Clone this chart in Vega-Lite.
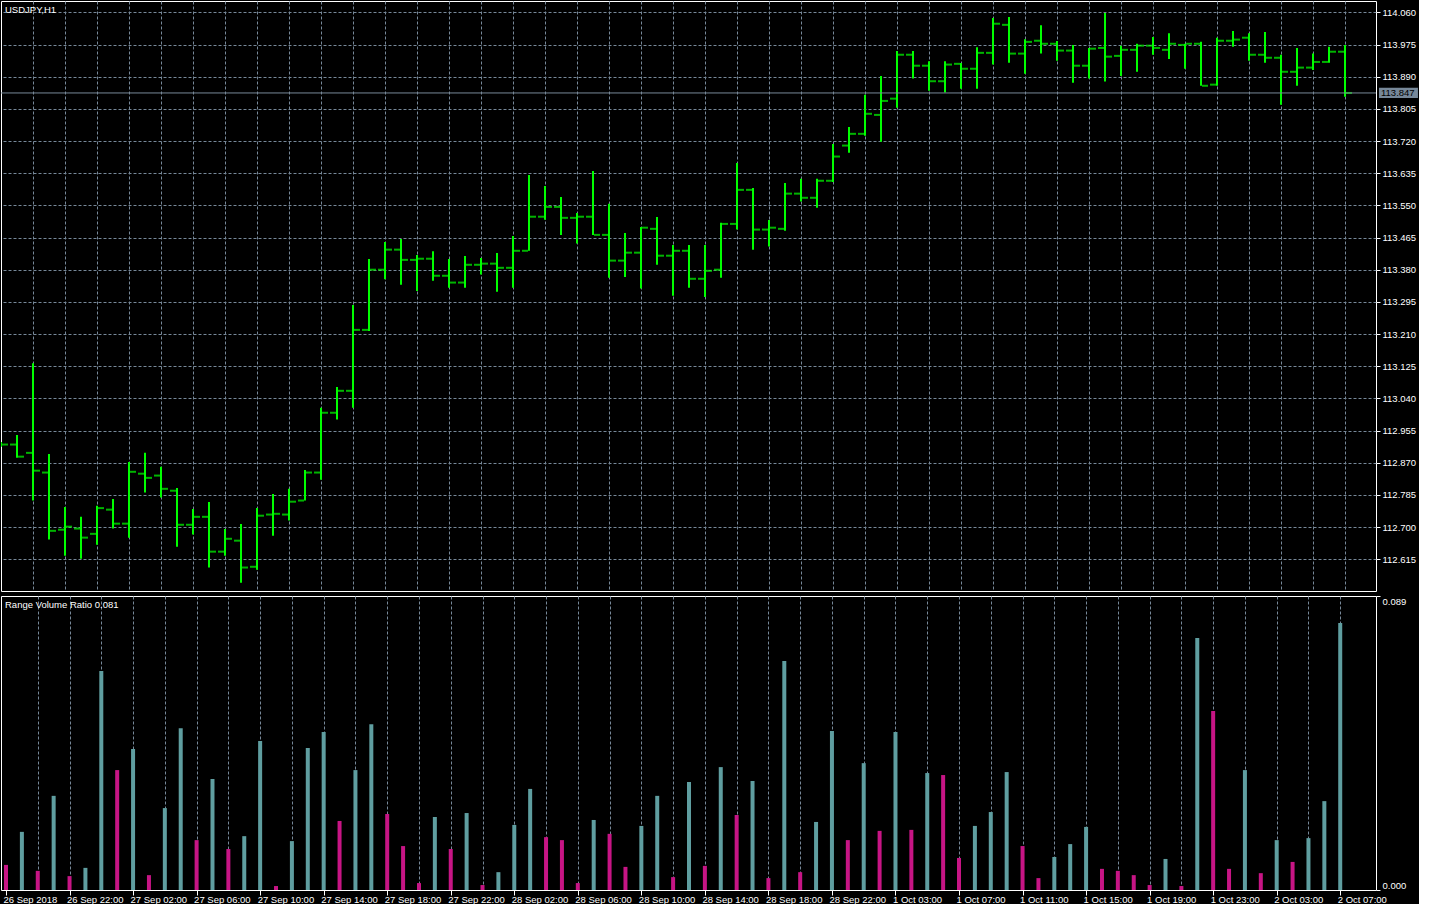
{
  "$schema": "https://vega.github.io/schema/vega-lite/v6.json",
  "background": "#000000",
  "padding": {"left": 0, "top": 0, "right": 0, "bottom": 0},
  "spacing": 3,
  "config": {
    "view": {"stroke": "#ffffff", "strokeWidth": 1},
    "font": "Liberation Sans",
    "axis": {"labelFont": "Liberation Sans", "labelFontSize": 9.5, "labelColor": "#ffffff", "title": null},
    "title": {"font": "Liberation Sans", "fontSize": 9.5, "fontWeight": "normal", "color": "#ffffff", "anchor": "start", "frame": "group"}
  },
  "data": {"values": [
    {"i":0,"o":112.918,"h":112.925,"l":112.912,"c":112.918,"v":0.0076,"col":"dn"},
    {"i":1,"o":112.918,"h":112.943,"l":112.883,"c":112.886,"v":0.0176,"col":"up"},
    {"i":2,"o":112.896,"h":113.133,"l":112.770,"c":112.849,"v":0.0058,"col":"dn"},
    {"i":3,"o":112.844,"h":112.893,"l":112.667,"c":112.690,"v":0.0285,"col":"up"},
    {"i":4,"o":112.693,"h":112.753,"l":112.624,"c":112.701,"v":0.0042,"col":"dn"},
    {"i":5,"o":112.696,"h":112.727,"l":112.616,"c":112.672,"v":0.0067,"col":"up"},
    {"i":6,"o":112.682,"h":112.756,"l":112.653,"c":112.750,"v":0.0663,"col":"up"},
    {"i":7,"o":112.746,"h":112.774,"l":112.696,"c":112.709,"v":0.0363,"col":"dn"},
    {"i":8,"o":112.709,"h":112.872,"l":112.672,"c":112.846,"v":0.0427,"col":"up"},
    {"i":9,"o":112.841,"h":112.896,"l":112.791,"c":112.830,"v":0.0045,"col":"dn"},
    {"i":10,"o":112.836,"h":112.859,"l":112.778,"c":112.801,"v":0.0248,"col":"up"},
    {"i":11,"o":112.796,"h":112.803,"l":112.648,"c":112.706,"v":0.0490,"col":"up"},
    {"i":12,"o":112.706,"h":112.748,"l":112.680,"c":112.727,"v":0.0151,"col":"dn"},
    {"i":13,"o":112.727,"h":112.766,"l":112.593,"c":112.635,"v":0.0336,"col":"up"},
    {"i":14,"o":112.635,"h":112.695,"l":112.624,"c":112.669,"v":0.0124,"col":"dn"},
    {"i":15,"o":112.664,"h":112.708,"l":112.553,"c":112.593,"v":0.0163,"col":"up"},
    {"i":16,"o":112.595,"h":112.750,"l":112.587,"c":112.730,"v":0.0451,"col":"up"},
    {"i":17,"o":112.733,"h":112.787,"l":112.677,"c":112.735,"v":0.0012,"col":"dn"},
    {"i":18,"o":112.733,"h":112.801,"l":112.717,"c":112.767,"v":0.0148,"col":"up"},
    {"i":19,"o":112.770,"h":112.851,"l":112.770,"c":112.844,"v":0.0430,"col":"up"},
    {"i":20,"o":112.844,"h":113.015,"l":112.825,"c":113.002,"v":0.0478,"col":"up"},
    {"i":21,"o":113.002,"h":113.070,"l":112.984,"c":113.060,"v":0.0209,"col":"dn"},
    {"i":22,"o":113.060,"h":113.287,"l":113.015,"c":113.221,"v":0.0363,"col":"up"},
    {"i":23,"o":113.221,"h":113.408,"l":113.218,"c":113.380,"v":0.0502,"col":"up"},
    {"i":24,"o":113.380,"h":113.453,"l":113.355,"c":113.433,"v":0.0230,"col":"dn"},
    {"i":25,"o":113.433,"h":113.461,"l":113.340,"c":113.406,"v":0.0133,"col":"dn"},
    {"i":26,"o":113.406,"h":113.419,"l":113.324,"c":113.409,"v":0.0021,"col":"dn"},
    {"i":27,"o":113.409,"h":113.429,"l":113.351,"c":113.364,"v":0.0221,"col":"up"},
    {"i":28,"o":113.364,"h":113.408,"l":113.332,"c":113.346,"v":0.0124,"col":"dn"},
    {"i":29,"o":113.346,"h":113.416,"l":113.332,"c":113.393,"v":0.0233,"col":"up"},
    {"i":30,"o":113.393,"h":113.411,"l":113.367,"c":113.396,"v":0.0015,"col":"dn"},
    {"i":31,"o":113.396,"h":113.424,"l":113.322,"c":113.385,"v":0.0054,"col":"up"},
    {"i":32,"o":113.385,"h":113.469,"l":113.332,"c":113.430,"v":0.0197,"col":"up"},
    {"i":33,"o":113.430,"h":113.630,"l":113.430,"c":113.520,"v":0.0306,"col":"up"},
    {"i":34,"o":113.520,"h":113.601,"l":113.512,"c":113.546,"v":0.0160,"col":"dn"},
    {"i":35,"o":113.546,"h":113.572,"l":113.472,"c":113.517,"v":0.0151,"col":"dn"},
    {"i":36,"o":113.517,"h":113.530,"l":113.449,"c":113.520,"v":0.0021,"col":"dn"},
    {"i":37,"o":113.520,"h":113.641,"l":113.472,"c":113.472,"v":0.0212,"col":"up"},
    {"i":38,"o":113.472,"h":113.554,"l":113.359,"c":113.404,"v":0.0170,"col":"dn"},
    {"i":39,"o":113.404,"h":113.477,"l":113.361,"c":113.425,"v":0.0070,"col":"dn"},
    {"i":40,"o":113.425,"h":113.493,"l":113.330,"c":113.491,"v":0.0194,"col":"up"},
    {"i":41,"o":113.488,"h":113.519,"l":113.393,"c":113.417,"v":0.0285,"col":"up"},
    {"i":42,"o":113.417,"h":113.445,"l":113.311,"c":113.430,"v":0.0039,"col":"dn"},
    {"i":43,"o":113.430,"h":113.445,"l":113.332,"c":113.356,"v":0.0327,"col":"up"},
    {"i":44,"o":113.356,"h":113.445,"l":113.308,"c":113.377,"v":0.0073,"col":"dn"},
    {"i":45,"o":113.380,"h":113.504,"l":113.359,"c":113.501,"v":0.0372,"col":"up"},
    {"i":46,"o":113.501,"h":113.662,"l":113.486,"c":113.591,"v":0.0227,"col":"dn"},
    {"i":47,"o":113.591,"h":113.596,"l":113.433,"c":113.486,"v":0.0330,"col":"up"},
    {"i":48,"o":113.486,"h":113.511,"l":113.441,"c":113.491,"v":0.0036,"col":"dn"},
    {"i":49,"o":113.488,"h":113.609,"l":113.483,"c":113.581,"v":0.0693,"col":"up"},
    {"i":50,"o":113.581,"h":113.620,"l":113.560,"c":113.570,"v":0.0054,"col":"dn"},
    {"i":51,"o":113.570,"h":113.620,"l":113.544,"c":113.615,"v":0.0206,"col":"up"},
    {"i":52,"o":113.615,"h":113.712,"l":113.612,"c":113.679,"v":0.0481,"col":"up"},
    {"i":53,"o":113.708,"h":113.757,"l":113.689,"c":113.739,"v":0.0151,"col":"dn"},
    {"i":54,"o":113.739,"h":113.842,"l":113.734,"c":113.792,"v":0.0384,"col":"up"},
    {"i":55,"o":113.789,"h":113.892,"l":113.718,"c":113.826,"v":0.0179,"col":"dn"},
    {"i":56,"o":113.832,"h":113.958,"l":113.808,"c":113.948,"v":0.0478,"col":"up"},
    {"i":57,"o":113.948,"h":113.958,"l":113.885,"c":113.919,"v":0.0182,"col":"dn"},
    {"i":58,"o":113.919,"h":113.931,"l":113.853,"c":113.878,"v":0.0354,"col":"up"},
    {"i":59,"o":113.878,"h":113.931,"l":113.848,"c":113.922,"v":0.0348,"col":"dn"},
    {"i":60,"o":113.924,"h":113.926,"l":113.858,"c":113.911,"v":0.0097,"col":"dn"},
    {"i":61,"o":113.911,"h":113.968,"l":113.858,"c":113.953,"v":0.0194,"col":"up"},
    {"i":62,"o":113.953,"h":114.045,"l":113.922,"c":114.030,"v":0.0236,"col":"up"},
    {"i":63,"o":114.027,"h":114.048,"l":113.927,"c":113.951,"v":0.0357,"col":"up"},
    {"i":64,"o":113.951,"h":113.989,"l":113.898,"c":113.982,"v":0.0133,"col":"dn"},
    {"i":65,"o":113.985,"h":114.026,"l":113.951,"c":113.977,"v":0.0036,"col":"dn"},
    {"i":66,"o":113.977,"h":113.984,"l":113.932,"c":113.959,"v":0.0100,"col":"up"},
    {"i":67,"o":113.959,"h":113.974,"l":113.874,"c":113.919,"v":0.0139,"col":"up"},
    {"i":68,"o":113.919,"h":113.966,"l":113.885,"c":113.964,"v":0.0191,"col":"up"},
    {"i":69,"o":113.966,"h":114.058,"l":113.877,"c":113.943,"v":0.0064,"col":"dn"},
    {"i":70,"o":113.945,"h":113.972,"l":113.892,"c":113.961,"v":0.0058,"col":"dn"},
    {"i":71,"o":113.961,"h":113.977,"l":113.903,"c":113.972,"v":0.0045,"col":"dn"},
    {"i":72,"o":113.972,"h":113.995,"l":113.948,"c":113.966,"v":0.0015,"col":"dn"},
    {"i":73,"o":113.961,"h":114.005,"l":113.937,"c":113.977,"v":0.0094,"col":"up"},
    {"i":74,"o":113.974,"h":113.977,"l":113.911,"c":113.977,"v":0.0012,"col":"dn"},
    {"i":75,"o":113.977,"h":113.982,"l":113.866,"c":113.866,"v":0.0763,"col":"up"},
    {"i":76,"o":113.869,"h":113.993,"l":113.866,"c":113.985,"v":0.0542,"col":"dn"},
    {"i":77,"o":113.985,"h":114.011,"l":113.969,"c":113.988,"v":0.0064,"col":"dn"},
    {"i":78,"o":113.993,"h":114.005,"l":113.932,"c":113.948,"v":0.0363,"col":"up"},
    {"i":79,"o":113.948,"h":114.008,"l":113.927,"c":113.940,"v":0.0051,"col":"dn"},
    {"i":80,"o":113.940,"h":113.948,"l":113.816,"c":113.903,"v":0.0151,"col":"up"},
    {"i":81,"o":113.903,"h":113.966,"l":113.866,"c":113.914,"v":0.0085,"col":"dn"},
    {"i":82,"o":113.914,"h":113.951,"l":113.908,"c":113.929,"v":0.0157,"col":"up"},
    {"i":83,"o":113.929,"h":113.969,"l":113.927,"c":113.956,"v":0.0269,"col":"up"},
    {"i":84,"o":113.956,"h":113.974,"l":113.837,"c":113.847,"v":0.0808,"col":"up"}
  ]},
  "vconcat": [
    {
      "width": 1375,
      "height": 590,
      "title": {"text": "USDJPY,H1", "offset": -13, "dx": 4},
      "layer": [
        {
          "mark": {"type": "rule", "color": "#00ff00", "strokeWidth": 2, "clip": true},
          "encoding": {
            "x": {"field": "i", "type": "quantitative",
                  "scale": {"domain": [0, 85.9375], "nice": false, "zero": false},
                  "axis": {"values": [2,4,6,8,10,12,14,16,18,20,22,24,26,28,30,32,34,36,38,40,42,44,46,48,50,52,54,56,58,60,62,64,66,68,70,72,74,76,78,80,82,84],
                           "tickCount": 200,
                           "grid": true, "gridColor": "#778899", "gridDash": [3, 2], "gridWidth": 1,
                           "labels": false, "ticks": false, "domain": false}},
            "y": {"field": "l", "type": "quantitative",
                  "scale": {"domain": [112.531, 114.090], "nice": false, "zero": false},
                  "axis": {"orient": "right", "format": ".3f",
                           "values": [112.615,112.7,112.785,112.87,112.955,113.04,113.125,113.21,113.295,113.38,113.465,113.55,113.635,113.72,113.805,113.89,113.975,114.06],
                           "tickCount": 200,
                           "grid": true, "gridColor": "#778899", "gridDash": [3, 2], "gridWidth": 1,
                           "labelOverlap": false, "labelBound": false,
                           "domain": false, "tickColor": "#ffffff", "tickSize": 4, "labelPadding": 2, "labelBaseline": "middle"}},
            "y2": {"field": "h"}
          }
        },
        {
          "mark": {"type": "tick", "orient": "horizontal", "color": "#00ff00", "size": 6, "thickness": 2, "xOffset": -4, "clip": true},
          "encoding": {
            "x": {"field": "i", "type": "quantitative"},
            "y": {"field": "o", "type": "quantitative"}
          }
        },
        {
          "mark": {"type": "tick", "orient": "horizontal", "color": "#00ff00", "size": 6, "thickness": 2, "xOffset": 4, "clip": true},
          "encoding": {
            "x": {"field": "i", "type": "quantitative"},
            "y": {"field": "c", "type": "quantitative"}
          }
        },
        {
          "data": {"values": [{"p": 113.847}]},
          "mark": {"type": "rule", "color": "#778899", "strokeWidth": 1},
          "encoding": {"y": {"field": "p", "type": "quantitative"}}
        },
        {
          "data": {"values": [{"p": 113.847}]},
          "mark": {"type": "rect", "color": "#778899"},
          "encoding": {
            "x": {"datum": 86.125, "type": "quantitative"},
            "x2": {"datum": 88.56},
            "y": {"datum": 113.8605, "type": "quantitative"},
            "y2": {"datum": 113.8335}
          }
        },
        {
          "data": {"values": [{"p": 113.847}]},
          "mark": {"type": "text", "align": "left", "baseline": "middle", "color": "#000000", "font": "Liberation Sans", "fontSize": 9.5},
          "encoding": {
            "x": {"datum": 86.25, "type": "quantitative"},
            "y": {"field": "p", "type": "quantitative"},
            "text": {"field": "p", "type": "quantitative", "format": ".3f"}
          }
        }
      ]
    },
    {
      "width": 1375,
      "height": 294,
      "title": {"text": "Range Volume Ratio 0.081", "offset": -14, "dx": 4},
      "mark": {"type": "bar", "width": 4, "clip": true},
      "encoding": {
        "x": {"field": "i", "type": "quantitative",
              "scale": {"domain": [0, 85.9375], "nice": false, "zero": false},
              "axis": {"values": [0,2,4,6,8,10,12,14,16,18,20,22,24,26,28,30,32,34,36,38,40,42,44,46,48,50,52,54,56,58,60,62,64,66,68,70,72,74,76,78,80,82,84],
                       "tickCount": 200,
                       "grid": true, "gridColor": "#778899", "gridDash": [3, 2], "gridWidth": 1,
                       "gridOpacity": {"condition": {"test": "datum.value == 0", "value": 0}, "value": 1},
                       "domain": false,
                       "tickColor": "#ffffff", "tickSize": 5,
                       "tickOpacity": {"condition": {"test": "datum.value % 4 == 0", "value": 1}, "value": 0},
                       "labelAlign": "left", "labelBaseline": "top", "labelPadding": -1, "labelOffset": -3,
                       "labelFlush": false, "labelOverlap": false, "labelBound": false,
                       "labelExpr": "datum.value % 4 == 0 ? ['26 Sep 2018','26 Sep 22:00','27 Sep 02:00','27 Sep 06:00','27 Sep 10:00','27 Sep 14:00','27 Sep 18:00','27 Sep 22:00','28 Sep 02:00','28 Sep 06:00','28 Sep 10:00','28 Sep 14:00','28 Sep 18:00','28 Sep 22:00','1 Oct 03:00','1 Oct 07:00','1 Oct 11:00','1 Oct 15:00','1 Oct 19:00','1 Oct 23:00','2 Oct 03:00','2 Oct 07:00'][datum.value / 4] : ''"}},
        "y": {"field": "v", "type": "quantitative",
              "scale": {"domain": [0, 0.089], "nice": false, "zero": true},
              "axis": {"orient": "right", "values": [0, 0.089], "format": ".3f", "grid": false, "tickCount": 200,
                       "domain": false, "tickColor": "#ffffff", "tickSize": 4, "labelPadding": 2, "labelFlush": true}},
        "color": {"field": "col", "type": "nominal",
                  "scale": {"domain": ["up", "dn"], "range": ["#5f9ea0", "#c71585"]},
                  "legend": null}
      }
    }
  ]
}
